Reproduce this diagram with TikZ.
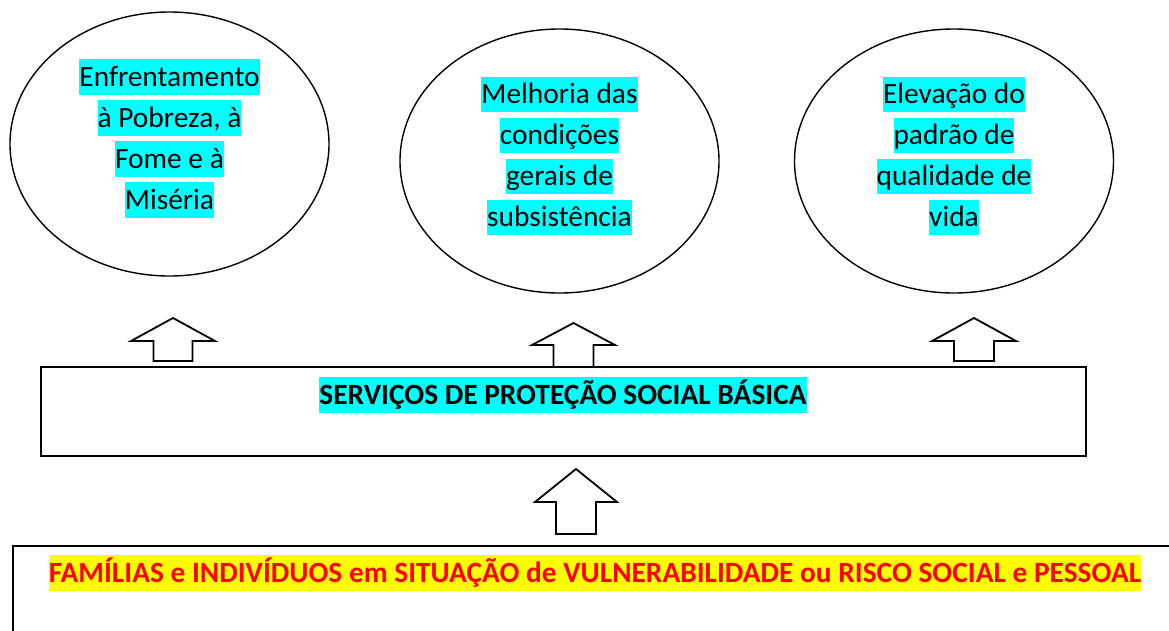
\documentclass[tikz,border=0pt]{standalone}
\usepackage{fontspec}
\setmainfont{Carlito}
\usetikzlibrary{shapes.geometric}
\definecolor{hlcyan}{RGB}{0,255,255}
\definecolor{hlyellow}{RGB}{255,255,0}
\definecolor{alertred}{RGB}{255,0,0}
\newcommand{\hilite}[2][hlcyan]{{\setlength{\fboxsep}{0pt}\colorbox{#1}{\rule[-0.3em]{0pt}{1.22em}#2}}} % Highlighted line.

\begin{document}
\begin{tikzpicture}[x=1pt,y=-1pt,
    goal/.style={ellipse,draw,line width=1.4pt,minimum width=319pt,minimum height=264pt,inner sep=0pt},
    lbl/.style={font=\fontsize{29.4}{41}\selectfont,align=center,inner sep=0pt},
    band/.style={draw,line width=1.6pt,inner sep=0pt,anchor=north west},
    pics/uparrow/.style n args={4}{code={
      \draw[line width=1.8pt,line join=miter] (0,0) -- (#1,#3) -- (#2,#3) -- (#2,#4)
        -- (-#2,#4) -- (-#2,#3) -- (-#1,#3) -- cycle;
    }}]
\useasboundingbox (0,0) rectangle (1169,630);
% goals
\node[goal] (e1) at (169.5,144) {};
\node[goal] (e2) at (559.5,161) {};
\node[goal] (e3) at (954,161) {};
\node[lbl] (t1) at ([yshift=5.5pt]e1.center)
  {\hilite{Enfrentamento}\\ \hilite{à Pobreza, à}\\ \hilite{Fome e à}\\ \hilite{Miséria}};
\node[lbl] (t2) at ([yshift=5pt]e2.center)
  {\hilite{Melhoria das}\\ \hilite{condições}\\ \hilite{gerais de}\\ \hilite{subsistência}};
\node[lbl] (t3) at ([yshift=5pt]e3.center)
  {\hilite{Elevação do}\\ \hilite{padrão de}\\ \hilite{qualidade de}\\ \hilite{vida}};
% services
\node[band,minimum width=1045pt,minimum height=89pt] (svc) at (40,366) {};
\node[lbl,font=\fontsize{29.4}{41}\selectfont\bfseries] (svclbl) at (563,395)
  {\hilite{SERVIÇOS DE PROTEÇÃO SOCIAL BÁSICA}};
% families
\node[band,line width=2.2pt,minimum width=1200pt,minimum height=120pt] (base) at (12,545) {};
\node[lbl,font=\fontsize{29.4}{41}\selectfont\bfseries,text=alertred] (baselbl) at (595,573)
  {\hilite[hlyellow]{FAMÍLIAS e INDIVÍDUOS em SITUAÇÃO de VULNERABILIDADE ou RISCO SOCIAL e PESSOAL}};
% arrows
\pic (a1) at (173,318) {uparrow={42}{19.5}{23}{43}};
\pic (a2) at (573.5,323) {uparrow={41.5}{20}{22}{44}};
\pic (a3) at (974,318) {uparrow={42}{20}{23}{43}};
\pic (a4) at (576,469) {uparrow={41}{20}{33}{65}};
\end{tikzpicture}
\end{document}
